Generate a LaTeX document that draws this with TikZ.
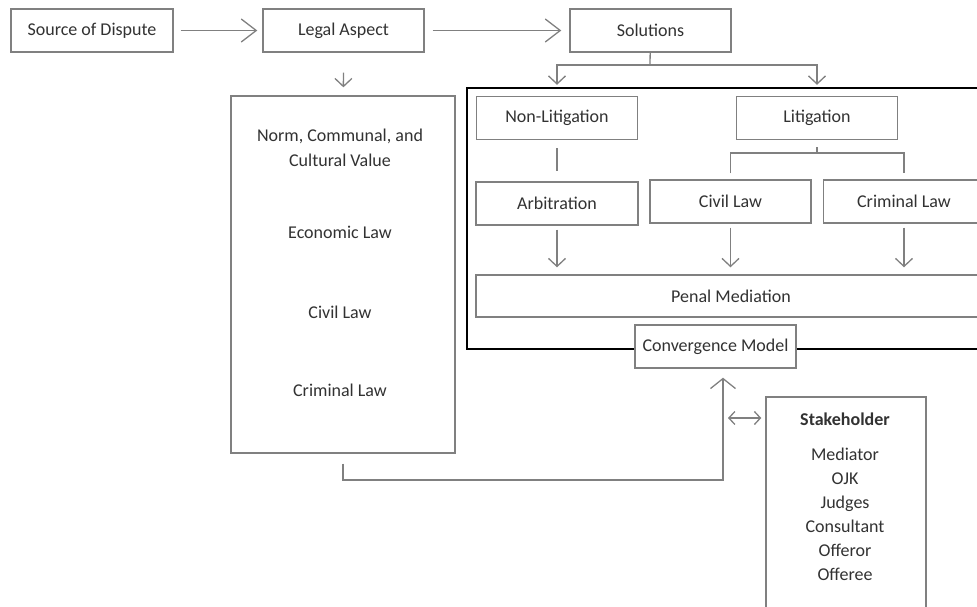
\documentclass[tikz,border=0pt]{standalone}
\usepackage{fontspec}
\setmainfont{Carlito}
\usetikzlibrary{arrows.meta}
\definecolor{boxgray}{RGB}{128,128,128}
\definecolor{txtgray}{RGB}{50,50,50}
\tikzset{
    box/.style={draw=boxgray, line width=1.4pt, fill=white, text=txtgray, inner sep=0pt,
        minimum width=161pt, minimum height=43pt, font=\fontsize{18}{24}\selectfont},
    label/.style={text=txtgray, align=center, font=\fontsize{18}{25}\selectfont},
    link/.style={draw=boxgray, line width=1.3pt},
    tip/.style={link, -{Straight Barb[length=8pt,width=17pt]}},
    bigtip/.style={link, -{Straight Barb[length=15pt,width=23pt]}},
    widetip/.style={link, -{Straight Barb[length=10pt,width=25pt]}},
    dbltip/.style={link, {Straight Barb[length=6pt,width=13pt]}-{Straight Barb[length=6pt,width=13pt]}},
}

\begin{document}
\begin{tikzpicture}[x=1pt, y=-1pt]
    \clip (0,0) rectangle (977,606);
    % top row
    \node [box, minimum width=162pt] (src) at (92, 30.5) {Source of Dispute};
    \node [box] (legal) at (343.5, 30.5) {Legal Aspect};
    \node [box] (sol) at (650.5, 30.5) {Solutions};
    \coordinate (fork) at (650, 65);
    \draw [bigtip, shorten <=7pt, shorten >=5pt] (src) to (legal);
    \draw [bigtip, shorten <=8pt, shorten >=8pt] (legal) to (sol);
    % legal aspect column
    \node [box, minimum width=224pt, minimum height=357pt] (lbox) at (343, 274.5) {};
    \node [label] (norm) at (340, 147.5) {Norm, Communal, and\\Cultural Value};
    \node [label] (econ) at (340, 232) {Economic Law};
    \node [label] (civ) at (340, 312) {Civil Law};
    \node [label] (crm) at (340, 390) {Criminal Law};
    \draw [tip, shorten <=20pt, shorten >=8pt] (legal) to (lbox);
    % frame of the convergence model
    \draw [line width=2.2pt] (467, 88) rectangle (995, 349);
    \node [box] (nonlit) at (557, 118) {Non-Litigation};
    \node [box] (litig) at (817, 118) {Litigation};
    \coordinate (litfork) at (817, 153);
    \node [box, minimum width=162pt] (arb) at (557, 203.5) {Arbitration};
    \node [box] (civil) at (730.5, 201.5) {Civil Law};
    \node [box] (crim) at (904, 201.5) {Criminal Law};
    \node [box, minimum width=510pt, minimum height=42pt] (penal) at (731, 296) {Penal Mediation};
    \node [box] (conv) at (715.5, 346.5) {Convergence Model};
    \draw [link] (sol) to (fork);
    \draw [tip] (fork) -| ([yshift=11pt]nonlit.north);
    \draw [tip] (fork) -| ([yshift=11pt]litig.north);
    \draw [link, shorten <=8pt, shorten >=10pt] (nonlit) to (arb);
    \draw [link, shorten <=7pt] (litig) to (litfork);
    \draw [link, shorten <=6pt, shorten >=6pt] (civil.north) -- (civil.north |- litfork)
        -- (crim.north |- litfork) -- (crim.north);
    \draw [tip, shorten <=4pt, shorten >=7pt] (arb) to (arb |- penal.north);
    \draw [tip, shorten <=4pt, shorten >=7pt] (civil) to (civil |- penal.north);
    \draw [tip, shorten <=4pt, shorten >=7pt] (crim) to (crim |- penal.north);
    % stakeholders
    \node [box, minimum width=160pt, minimum height=243pt] (stake) at (846, 518.5) {};
    \node [label, font=\fontsize{18}{24}\bfseries] (sttl) at (845, 419) {Stakeholder};
    \node [label, font=\fontsize{18}{24}\selectfont] (slist) at (845, 514.5)
        {Mediator\\OJK\\Judges\\Consultant\\Offeror\\Offeree};
    \coordinate (join) at (723, 480);
    \coordinate (tap) at (728, 418);
    \draw [widetip, shorten <=10pt, shorten >=9pt] (lbox.south) |- (join) -- (join |- conv.south);
    \draw [dbltip, shorten >=4pt] (tap) -- (tap -| stake.west);
\end{tikzpicture}
\end{document}
